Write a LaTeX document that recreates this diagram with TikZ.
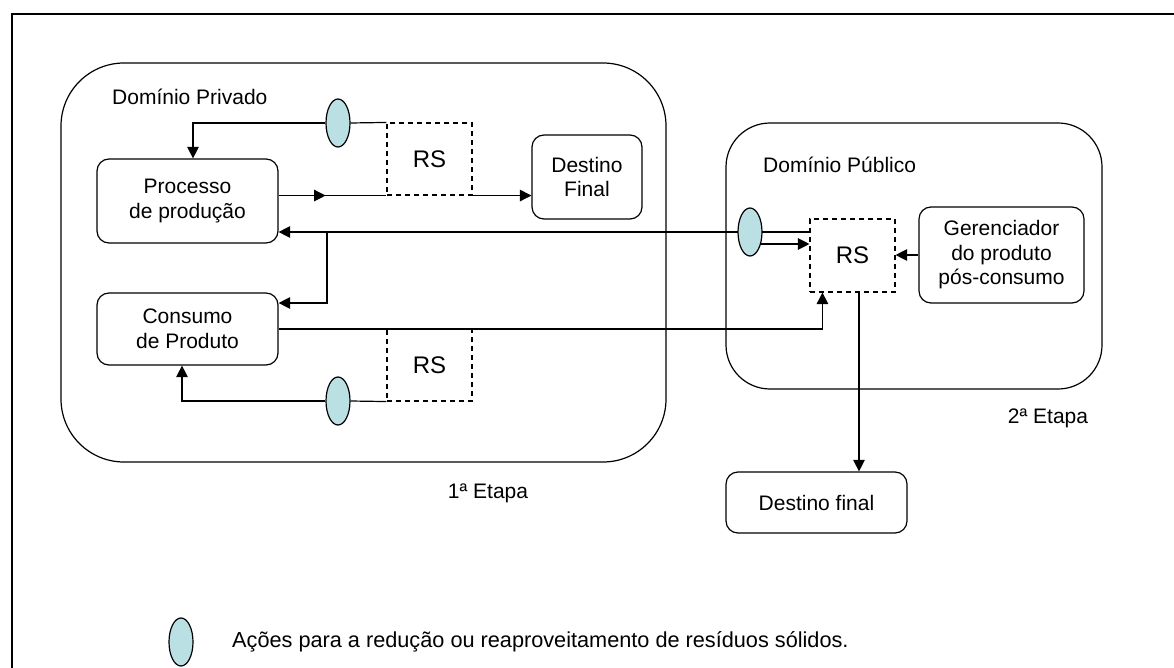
\documentclass[tikz,border=0pt]{standalone}
\usepackage{fontspec}
\setmainfont{Liberation Sans}
\usetikzlibrary{arrows.meta,shapes.geometric,decorations.markings}
\definecolor{actcol}{RGB}{187,224,227}
\pgfdeclarelayer{bg}
\pgfsetlayers{bg,main}
\tikzset{
  lbl/.style={font=\fontsize{21}{24.5}\selectfont, inner sep=0pt},
  procbox/.style={draw, line width=1.2pt, rounded corners=12pt, align=center, inner sep=0pt,
    font=\fontsize{21}{24.5}\selectfont},
  rsbox/.style={draw, line width=1.1pt, dash pattern=on 5pt off 4pt, inner sep=0pt,
    minimum width=85pt, minimum height=72pt, font=\fontsize{24}{28}\selectfont},
  domainbox/.style={draw, line width=1.2pt, inner sep=0pt},
  acao/.style={ellipse, draw, line width=1.2pt, fill=actcol, inner sep=0pt,
    minimum width=24pt, minimum height=48pt},
  conn/.style={line width=1.2pt},
  arr/.style={line width=1.2pt, -{Triangle[length=11.5pt,width=11.5pt]}},
}
\begin{document}
\begin{tikzpicture}[x=1pt,y=-1pt]
\useasboundingbox (0,0) rectangle (1174,668);
% outer frame
\draw[line width=1.8pt] (12,668) -- (12,14) -- (1174,14);

% domains
\node[domainbox, rounded corners=63pt, minimum width=605pt, minimum height=399pt] (priv) at (363.5,262.5) {};
\node[domainbox, rounded corners=44pt, minimum width=376pt, minimum height=266pt] (pub) at (914,256) {};
\node[lbl, anchor=west] (privlbl) at (112,97) {Domínio Privado};
\node[lbl, anchor=west] (publbl) at (763,165) {Domínio Público};

% boxes
\node[procbox, minimum width=181pt, minimum height=84pt] (proc) at (187.5,201) {Processo\\de produção};
\node[procbox, minimum width=181pt, minimum height=72pt] (cons) at (187.5,329) {Consumo\\de Produto};
\node[procbox, minimum width=110pt, minimum height=84pt] (destF) at (587,177) {Destino\\Final};
\node[procbox, minimum width=165pt, minimum height=96pt] (ger) at (1001.5,255) {Gerenciador\\do produto\\pós-consumo};
\node[procbox, minimum width=181pt, minimum height=61pt] (dfin) at (816.5,502.5) {Destino final};

\node[rsbox] (rs1) at (429.5,159) {RS};
\node[rsbox] (rs3) at (429.5,365) {RS};
\node[rsbox, minimum height=73pt] (rs2) at (852.5,255.5) {RS};

% action ellipses
\node[acao] (e1) at (338,123) {};
\node[acao] (e2) at (338,401) {};
\node[acao] (e3) at (750,232) {};
\node[acao] (e4) at (181,642) {};

% labels
\node[lbl] (et1) at (488,493) {1ª Etapa};
\node[lbl] (et2) at (1048,418) {2ª Etapa};
\node[lbl, anchor=west, font=\fontsize{21.7}{25}\selectfont] (leg) at (232,642) {Ações para a redução ou reaproveitamento de resíduos sólidos.};

\coordinate (j) at (327,232);
\coordinate (e3o) at ([shift={(10.4pt,-12pt)}]e3.center);

\begin{pgfonlayer}{bg}
% top loop
\draw[conn] (rs1.north west) -- (e1.east);
\draw[arr] (e1.west) -| ([xshift=5.5pt]proc.north);
\draw[conn, postaction={decorate}, decoration={markings,
  mark=at position 47pt with {\arrow{Triangle[length=11.5pt,width=11.5pt]}}}]
  (proc.east |- rs1.south west) -- (rs1.south west);
\draw[arr] (rs1.south east) -- (rs1.south east -| destF.west);
% long return line
\draw[arr] (rs2.west |- e3) -- (proc.east |- e3);
\draw[arr] (j) |- (cons.east |- 0,303);
\draw[arr] (e3o) -- (e3o -| rs2.west);
% consumo to RS public
\draw[arr] (cons.east) -| ([xshift=13pt]rs2.south west);
% bottom loop
\draw[conn] (rs3.south west) -- (e2.east);
\draw[arr] (e2.west) -| ([xshift=-5.5pt]cons.south);
% gerenciador
\draw[arr] (ger.west) -- (ger.west -| rs2.east);
% RS public to destino final
\draw[arr] ([xshift=6.5pt]rs2.south) -- ([xshift=6.5pt]rs2.south |- dfin.north);
\end{pgfonlayer}
\end{tikzpicture}
\end{document}
